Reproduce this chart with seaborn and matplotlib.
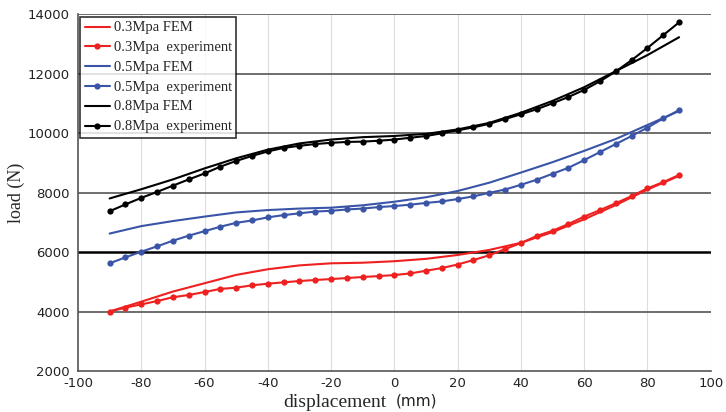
import numpy as np
import pandas as pd
import matplotlib
matplotlib.use("Agg")
import matplotlib.pyplot as plt
import seaborn as sns

# experiment displacement (mm)
x_exp = list(range(-90, 95, 5))
# FEM displacement (mm)
x_fem = list(range(-90, 100, 10))

exp_03 = [4000, 4130, 4240, 4350, 4480, 4555, 4655, 4760, 4800, 4880, 4935, 4980,
          5025, 5060, 5090, 5125, 5160, 5190, 5225, 5280, 5370, 5460, 5580, 5730,
          5890, 6100, 6300, 6540, 6715, 6940, 7190, 7410, 7640, 7880, 8140, 8350, 8590]
fem_03 = [4000, 4330, 4670, 4950, 5230, 5420, 5550, 5620, 5640, 5690,
          5770, 5900, 6070, 6310, 6670, 7100, 7580, 8100, 8560]

exp_05 = [5620, 5820, 6010, 6190, 6380, 6550, 6700, 6850, 6980, 7060, 7165, 7240,
          7300, 7360, 7385, 7430, 7460, 7510, 7545, 7590, 7650, 7700, 7780, 7870,
          7990, 8100, 8260, 8430, 8630, 8830, 9090, 9360, 9630, 9900, 10180, 10490, 10770]
fem_05 = [6620, 6870, 7040, 7190, 7330, 7410, 7460, 7490, 7570, 7690,
          7840, 8050, 8330, 8670, 9020, 9400, 9800, 10270, 10740]

exp_08 = [7370, 7600, 7820, 8020, 8230, 8440, 8640, 8870, 9060, 9230, 9380, 9500,
          9570, 9630, 9670, 9700, 9710, 9740, 9780, 9840, 9900, 9990, 10090, 10190,
          10310, 10470, 10630, 10800, 11000, 11210, 11450, 11740, 12070, 12450, 12860, 13290, 13720]
fem_08 = [7800, 8110, 8440, 8810, 9150, 9440, 9650, 9780, 9860, 9900,
          9970, 10120, 10340, 10680, 11080, 11540, 12080, 12620, 13220]

labels = ["0.3Mpa FEM", "0.3Mpa  experiment", "0.5Mpa FEM", "0.5Mpa  experiment",
          "0.8Mpa FEM", "0.8Mpa  experiment"]
x_ticks = [-100, -80, -60, -40, -20, 0, 20, 40, 60, 80, 100]
y_ticks = [2000, 4000, 6000, 8000, 10000, 12000, 14000]

red = "#ee2020"
blue = "#3a55a8"
black = "#000000"

series = [
    (x_fem, fem_03, labels[0], red, False),
    (x_exp, exp_03, labels[1], red, True),
    (x_fem, fem_05, labels[2], blue, False),
    (x_exp, exp_05, labels[3], blue, True),
    (x_fem, fem_08, labels[4], black, False),
    (x_exp, exp_08, labels[5], black, True),
]

sns.set_theme(style="white")
plt.rcParams['font.family'] = ['DejaVu Sans']

fig = plt.figure(figsize=(7.26, 4.12), dpi=100)
ax = fig.add_axes([0.1074, 0.0995, 0.8716, 0.8665])

for xs, ys, lab, col, mk in series:
    df = pd.DataFrame({"x": xs, "y": ys})
    sns.lineplot(data=df, x="x", y="y", ax=ax, color=col, label=lab,
                 linewidth=1.5, marker="o" if mk else None,
                 markersize=4.5 if mk else 0, markeredgewidth=0,
                 estimator=None, sort=False)

ax.set_xlim(-100, 100)
ax.set_ylim(2000, 14000)
ax.set_xticks(x_ticks)
ax.set_yticks(y_ticks)
ax.set_xticklabels([str(v) for v in x_ticks], fontsize=9.5, color="#222222")
ax.set_yticklabels([str(v) for v in y_ticks], fontsize=9.5, color="#222222")

# grid lines
for v in x_ticks[1:-1]:
    ax.axvline(v, color="#dddddd", linewidth=0.8, zorder=0)
ax.axvline(100, color="#cccccc", linewidth=0.8, zorder=0)
for v in [4000, 8000, 10000, 12000, 14000]:
    ax.axhline(v, color="#555555", linewidth=1.2, zorder=0.5)
ax.axhline(6000, color="#000000", linewidth=1.8, zorder=0.5)

for s in ["top", "right"]:
    ax.spines[s].set_visible(False)
for s in ["left", "bottom"]:
    ax.spines[s].set_color("#555555")
    ax.spines[s].set_linewidth(1.2)
ax.tick_params(axis="x", length=0, pad=4)
ax.tick_params(axis="y", length=0, pad=6)

ax.set_ylabel("load (N)", fontsize=13, family="Liberation Serif", labelpad=2)
ax.set_xlabel("")
fig.text(0.39, 0.012, "displacement", fontsize=14, family="Liberation Serif")
fig.text(0.545, 0.016, "(mm)", fontsize=11, family="DejaVu Sans", color="#222222")

leg = ax.legend(loc="upper left", bbox_to_anchor=(0.0, 1.0), frameon=True,
                fontsize=9, handlelength=2.0, handletextpad=0.3,
                borderpad=0.35, labelspacing=0.55, fancybox=False,
                borderaxespad=0.2)
leg.get_frame().set_edgecolor("#000000")
leg.get_frame().set_linewidth(1.2)
for t in leg.get_texts():
    t.set_family("Liberation Serif")
    t.set_fontsize(10.5)

fig.savefig("out.png", dpi=100, facecolor="white")
